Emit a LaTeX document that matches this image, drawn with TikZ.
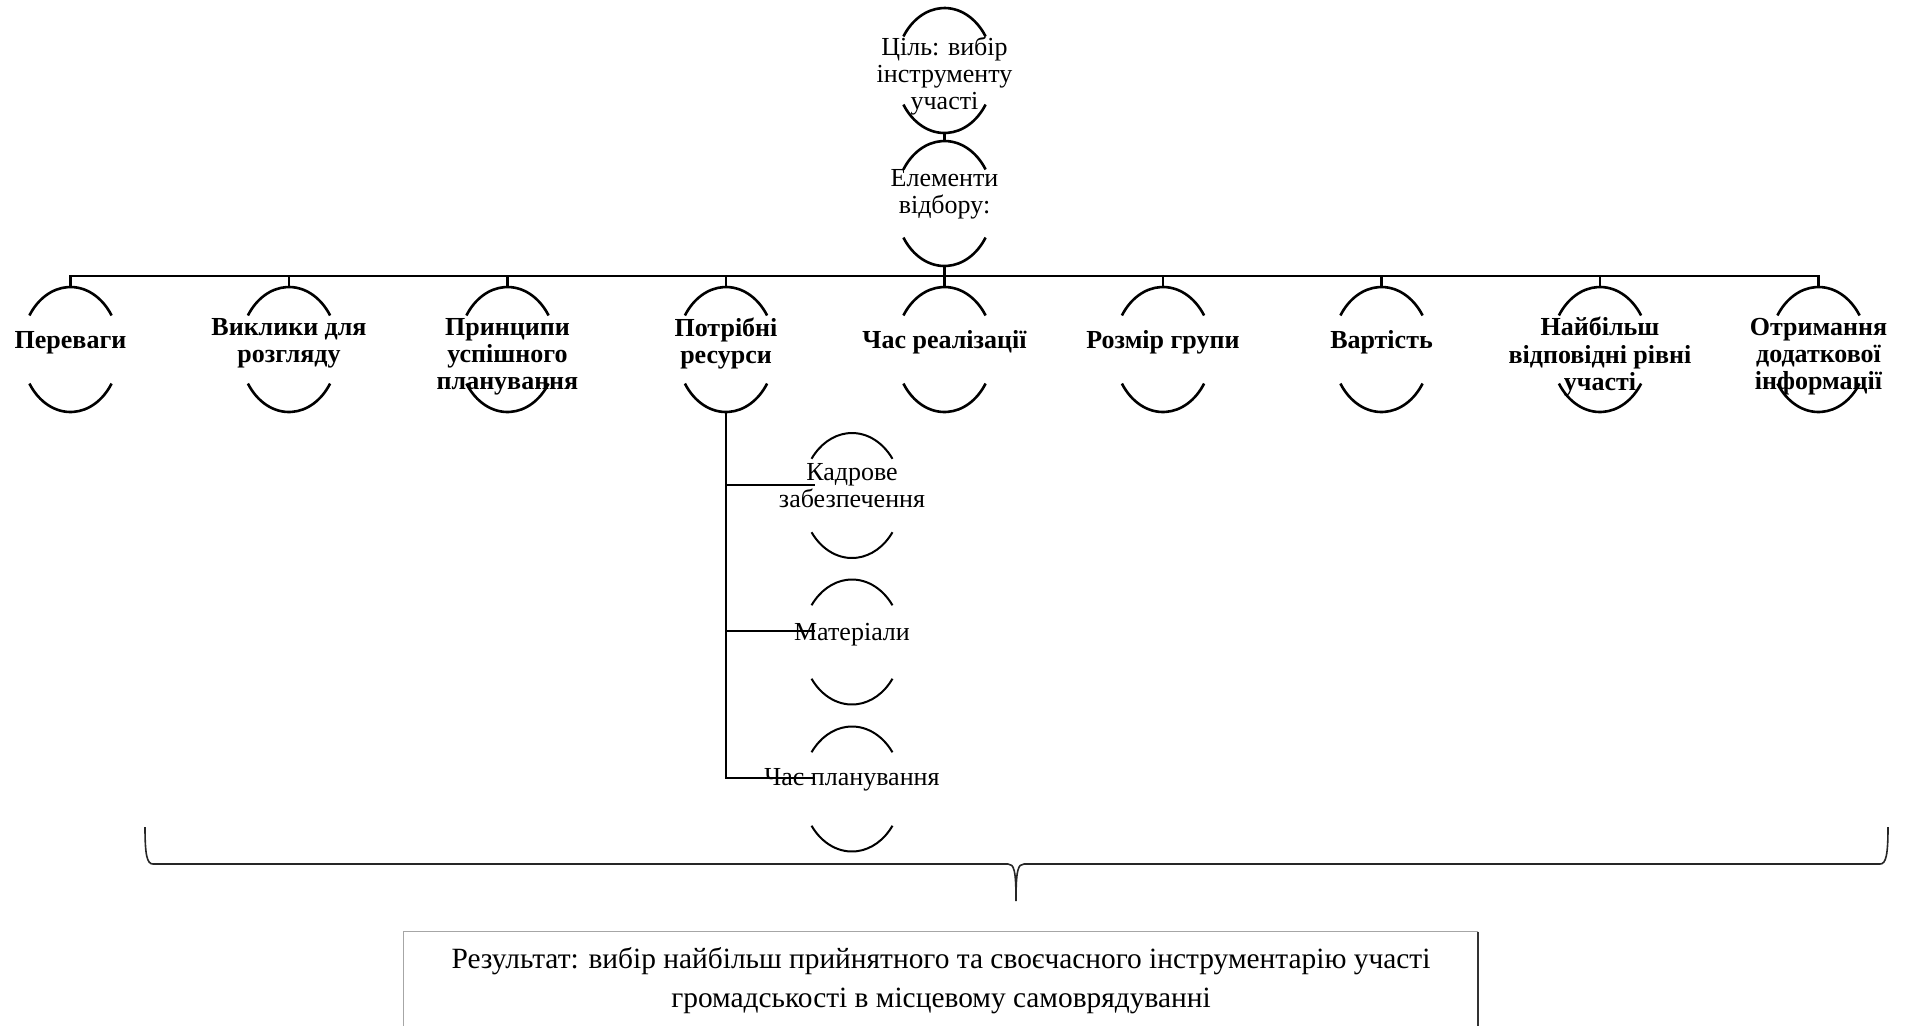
\documentclass[tikz,border=0pt]{standalone}
\usepackage{fontspec}
\setmainfont{Liberation Serif}
\usetikzlibrary{shapes.geometric,calc}
\begin{document}
\begin{tikzpicture}[x=0.5pt,y=-0.5pt,
  oval/.style={ellipse, draw=none, inner sep=0pt, minimum width=49pt, minimum height=62.5pt},
  arcline/.style={line width=1.3pt},
  subarc/.style={line width=1pt},
  conn/.style={line width=1.3pt},
  subconn/.style={line width=1.1pt},
  rowtxt/.style={font=\bfseries\fontsize{13}{13.7}\selectfont, align=center, inner sep=0pt,
    execute at begin node=\strut, execute at end node=\strut},
  plaintxt/.style={font=\fontsize{13}{13.5}\selectfont, align=center, inner sep=0pt,
    execute at begin node=\strut, execute at end node=\strut},
  boxtxt/.style={font=\fontsize{14.7}{19.5}\selectfont, align=center, inner sep=0pt,
    minimum width=537pt, minimum height=48.7pt},
  bracel/.style={line width=0.8pt, black!85},
]
\fill[white] (0,0) rectangle (1908,1025);
\useasboundingbox (0,0) rectangle (1908,1025);

% ellipse nodes
\node[oval] (goal) at (944.5,70.5) {};
\node[oval] (elem) at (944.5,203.5) {};
\foreach \i/\x in {1/70.5,2/289,3/507.5,4/726,5/944.5,6/1163,7/1381.5,8/1600,9/1818.5}{
  \node[oval] (r\i) at (\x,349.5) {};
}
\node[oval] (s1) at (852,495.5) {};
\node[oval] (s2) at (852,642) {};
\node[oval] (s3) at (852,789) {};

% arcs of the ellipses
\foreach \n in {goal,elem,r1,r2,r3,r4,r5,r6,r7,r8,r9}{
  \draw[arcline] (\n.center) ++(33:24.5pt and 31.25pt) arc[start angle=33,end angle=147,x radius=24.5pt,y radius=31.25pt];
  \draw[arcline] (\n.center) ++(213:24.5pt and 31.25pt) arc[start angle=213,end angle=327,x radius=24.5pt,y radius=31.25pt];
}
\foreach \n in {s1,s2,s3}{
  \draw[subarc] (\n.center) ++(36:25pt and 31.25pt) arc[start angle=36,end angle=144,x radius=25pt,y radius=31.25pt];
  \draw[subarc] (\n.center) ++(216:25pt and 31.25pt) arc[start angle=216,end angle=324,x radius=25pt,y radius=31.25pt];
}

% texts
\node[plaintxt] (goalt) at (944.5,77.5) {Ціль: вибір\\інструменту\\участі};
\node[plaintxt] (elemt) at (944.5,196) {Елементи\\відбору:};
\node[rowtxt] (t1) at (70.5,343.5) {Переваги};
\node[rowtxt] (t2) at (289,344.5) {Виклики для\\розгляду};
\node[rowtxt] (t3) at (507.5,358) {Принципи\\успішного\\планування};
\node[rowtxt] (t4) at (726,344.5) {Потрібні\\ресурси};
\node[rowtxt] (t5) at (944.5,343.5) {Час реалізації};
\node[rowtxt] (t6) at (1163,343.5) {Розмір групи};
\node[rowtxt] (t7) at (1381.5,343.5) {Вартість};
\node[rowtxt] (t8) at (1600,358) {Найбільш\\відповідні рівні\\участі};
\node[rowtxt] (t9) at (1818.5,358) {Отримання\\додаткової\\інформації};
\node[plaintxt] (u1) at (852,490) {Кадрове\\забезпечення};
\node[plaintxt] (u2) at (852,635.5) {Матеріали};
\node[plaintxt] (u3) at (852,780.5) {Час планування};

% connectors
\coordinate (bus) at (944.5,276);
\draw[conn] (goal.south) -- (elem.north);
\draw[conn] (elem.south) -- (bus);
\draw[conn, line join=miter] (r1.north) -- (r1.north |- bus) -- (r9.north |- bus) -- (r9.north);
\foreach \i in {2,...,8}{
  \draw[conn] (r\i.north) -- (r\i.north |- bus);
}
\coordinate (k1) at (815,485);
\coordinate (k2) at (815,631);
\coordinate (k3) at (815,778);
\draw[subconn, line join=miter] (r4.south) |- (k3);
\draw[subconn] (r4.south |- k1) -- (k1);
\draw[subconn] (r4.south |- k2) -- (k2);

% brace
\draw[bracel] (145,827) .. controls (145,855) and (147,864) .. (153,864)
  -- (1008,864) .. controls (1014,864) and (1016,870) .. (1016,901)
  .. controls (1016,870) and (1018,864) .. (1024,864)
  -- (1880,864) .. controls (1886,864) and (1888,855) .. (1888,827);

% result box
\node[boxtxt] (res) at (941,980.7) {Результат: вибір найбільш прийнятного та своєчасного інструментарію участі\\громадськості в місцевому самоврядуванні};
\draw[black!35, line width=0.6pt] (res.south west) -- (res.north west) -- (res.north east);
\draw[black!80, line width=1pt] (res.north east) -- (res.south east);
\end{tikzpicture}
\end{document}
